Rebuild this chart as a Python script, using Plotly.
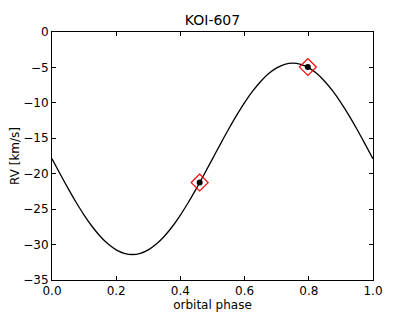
import plotly.graph_objects as go

# model curve
phase = [0.0, 0.025, 0.05, 0.075, 0.1, 0.125, 0.15, 0.175, 0.2, 0.225, 0.25,
         0.275, 0.3, 0.325, 0.35, 0.375, 0.4, 0.425, 0.45, 0.475, 0.5,
         0.525, 0.55, 0.575, 0.6, 0.625, 0.65, 0.675, 0.7, 0.725, 0.75,
         0.775, 0.8, 0.825, 0.85, 0.875, 0.9, 0.925, 0.95, 0.975, 1.0]
rv_model = [-17.9, -20.01, -22.07, -24.03, -25.84, -27.45, -28.82, -29.93, -30.74, -31.23, -31.4,
            -31.23, -30.74, -29.93, -28.82, -27.45, -25.84, -24.03, -22.07, -20.01, -17.9,
            -15.79, -13.73, -11.77, -9.96, -8.35, -6.98, -5.87, -5.06, -4.57, -4.4,
            -4.57, -5.06, -5.87, -6.98, -8.35, -9.96, -11.77, -13.73, -15.79, -17.9]

# observations
obs_phase = [0.46, 0.797]
obs_rv = [-21.25, -4.95]

x_ticks = [0.0, 0.2, 0.4, 0.6, 0.8, 1.0]
x_tick_labels = ["0.0", "0.2", "0.4", "0.6", "0.8", "1.0"]
y_ticks = [0, -5, -10, -15, -20, -25, -30, -35]
y_tick_labels = ["0", "\u22125", "\u221210", "\u221215", "\u221220", "\u221225", "\u221230", "\u221235"]

FONT = "DejaVu Sans"

fig = go.Figure()
fig.add_trace(go.Scatter(x=phase, y=rv_model, mode="lines", line_shape="spline",
                         line=dict(color="black", width=1.3), hoverinfo="skip"))
fig.add_trace(go.Scatter(x=obs_phase, y=obs_rv, mode="markers",
                         marker=dict(symbol="diamond-open", size=13, color="red",
                                     line=dict(color="red", width=1.2))))
fig.add_trace(go.Scatter(x=obs_phase, y=obs_rv, mode="markers",
                         marker=dict(symbol="circle", size=6, color="black")))

axis_common = dict(showgrid=False, zeroline=False, showline=True, linecolor="black",
                   linewidth=1, mirror="ticks", ticks="inside", ticklen=4,
                   tickcolor="black", tickwidth=1, automargin=False,
                   tickfont=dict(family=FONT, size=12, color="black"))

W, H = 407, 304  # page body adds an 8px offset

fig.update_layout(
    width=W, height=H,
    margin=dict(l=44, r=42, t=24, b=32),
    paper_bgcolor="white", plot_bgcolor="white",
    showlegend=False,
    title=dict(text="KOI-607", x=(44 + 321 / 2) / W, xanchor="center", y=1 - 12 / H,
               yanchor="middle", yref="container", automargin=False,
               font=dict(family=FONT, size=14, color="black")),
    xaxis=dict(range=[0, 1], tickvals=x_ticks, ticktext=x_tick_labels,
               title=dict(text="orbital phase", standoff=0,
                          font=dict(family=FONT, size=12, color="black")),
               **axis_common),
    yaxis=dict(range=[-35, 0], tickvals=y_ticks, ticktext=y_tick_labels,
               title=dict(text="RV [km/s]", standoff=4,
                          font=dict(family=FONT, size=12, color="black")),
               **axis_common),
)

fig.write_html("out.html")
